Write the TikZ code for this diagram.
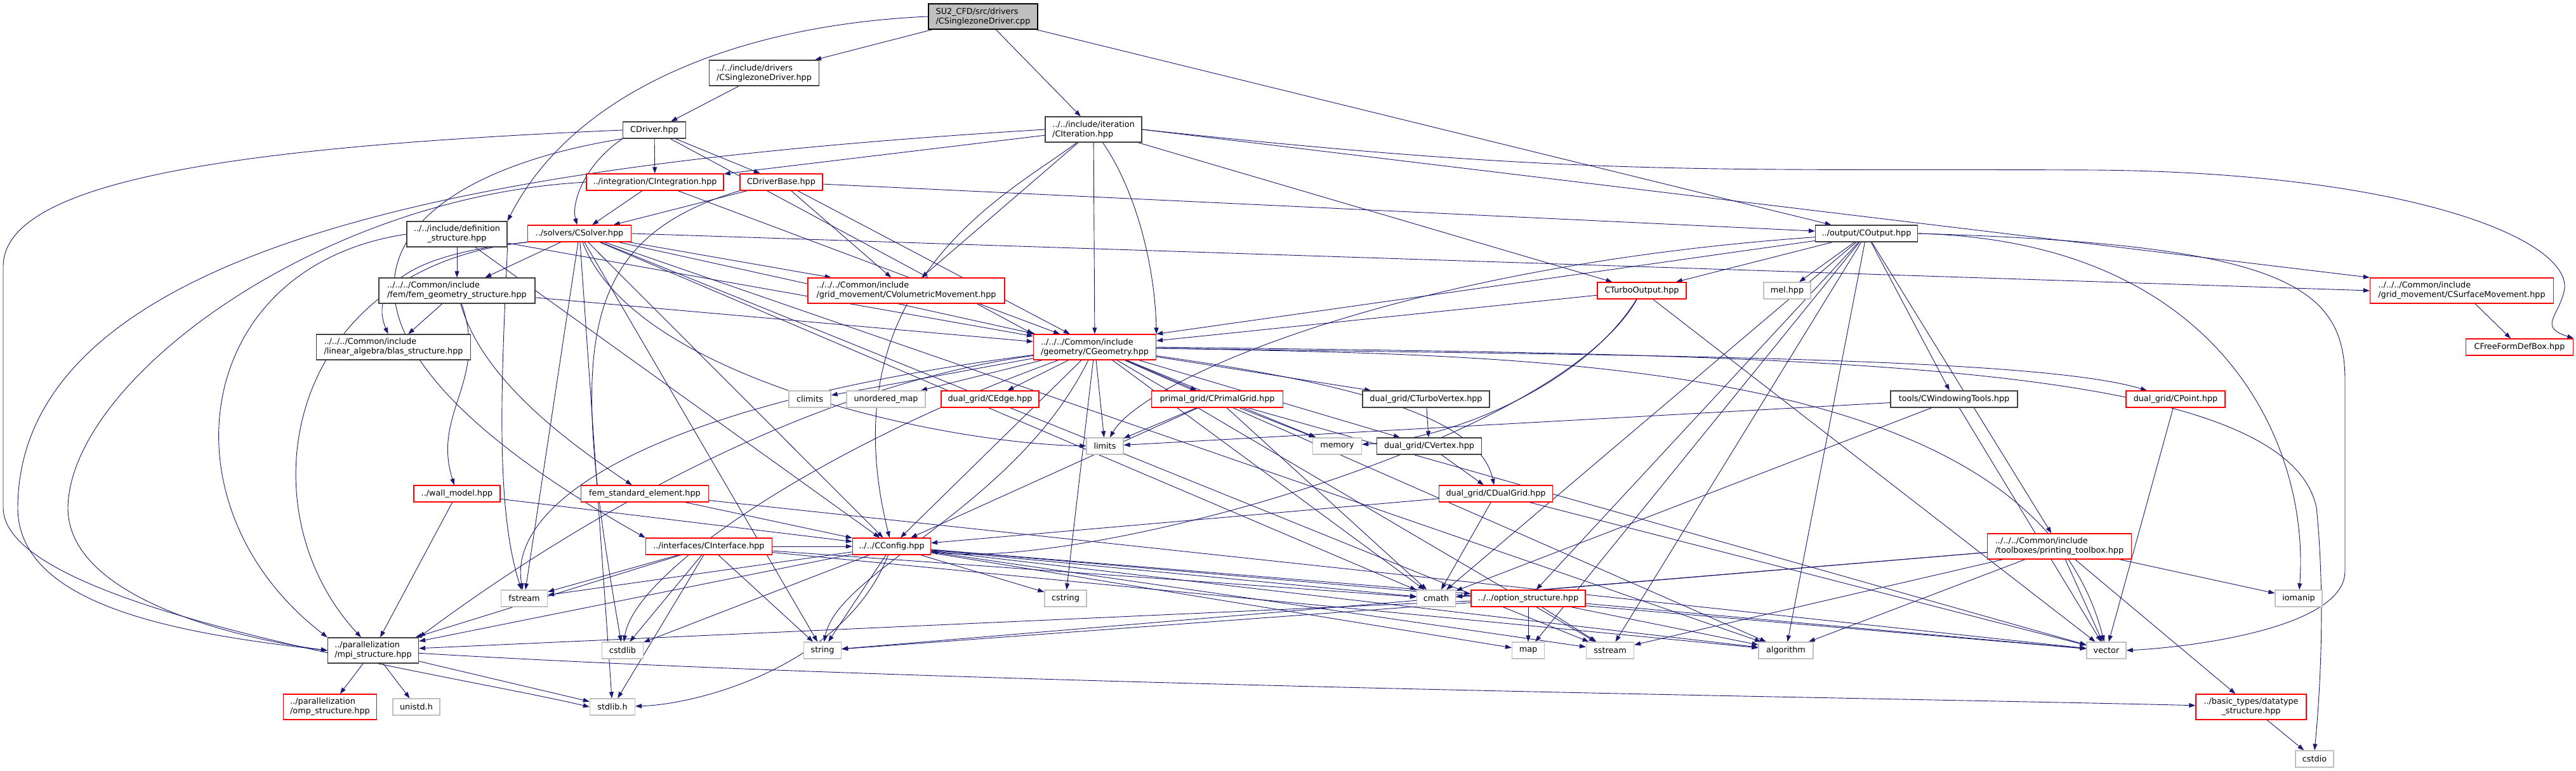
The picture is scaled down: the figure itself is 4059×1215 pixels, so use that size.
\documentclass[tikz,border=0pt]{standalone}
\usepackage{fontspec}
\setmainfont{DejaVu Sans}
\usetikzlibrary{arrows.meta,positioning,backgrounds}
\definecolor{edgeblue}{RGB}{25,25,112}
\definecolor{truncred}{RGB}{255,0,0}
\definecolor{sysgrey}{RGB}{191,191,191}
\definecolor{rootgrey}{RGB}{191,191,191}

\begin{document}
\begin{tikzpicture}[
  x=1pt, y=-1pt,
  font=\fontsize{12.8}{15}\selectfont,
  file/.style={draw=black!75, line width=1.3pt, fill=white, inner xsep=5pt, inner ysep=0pt,
    minimum height=26pt, align=left},
  file2/.style={file, minimum height=40pt},
  cut/.style={file, draw=truncred},
  cut2/.style={cut, minimum height=40pt},
  sys/.style={file, draw=sysgrey},
  rootbox/.style={file2, draw=black, fill=rootgrey},
  ar/.style={-{Triangle[length=10pt,width=7pt]}, draw=edgeblue, line width=0.9pt}
]
\useasboundingbox (0,0) rectangle (4059,1215);

% ---- nodes ------------------------------------------------------------------
\node[rootbox, minimum width=172pt] (root) at (1549,26) {SU2\_CFD/src/drivers\\/CSinglezoneDriver.cpp};
\node[file2, minimum width=173pt] (szd) at (1204,115) {../../include/drivers\\/CSinglezoneDriver.hpp};
\node[file, minimum width=99pt] (drv) at (1031,205) {CDriver.hpp};
\node[cut, minimum width=216pt] (integ) at (1032,287) {../integration/CIntegration.hpp};
\node[cut, minimum width=130pt] (dbase) at (1231,287) {CDriverBase.hpp};
\node[file2, minimum width=152pt] (iter) at (1723,204) {../../include/iteration\\/CIteration.hpp};
\node[file, minimum width=161pt] (out) at (2941,368) {../output/COutput.hpp};
\node[file2, minimum width=158pt, align=center] (defs) at (720,369) {../../include/definition\\\_structure.hpp};
\node[cut, minimum width=163pt] (solver) at (913,368) {../solvers/CSolver.hpp};

\node[file2, minimum width=246pt] (femgeo) at (720,458) {../../../Common/include\\/fem/fem\_geometry\_structure.hpp};
\node[cut2, minimum width=310pt] (volmov) at (1428,458) {../../../Common/include\\/grid\_movement/CVolumetricMovement.hpp};
\node[cut, minimum width=140pt] (turboout) at (2587,458) {CTurboOutput.hpp};
\node[sys, minimum width=74pt] (mel) at (2816,458) {mel.hpp};
\node[cut2, minimum width=289pt] (surfmov) at (3879,458) {../../../Common/include\\/grid\_movement/CSurfaceMovement.hpp};

\node[file2, minimum width=243pt] (blas) at (620,547) {../../../Common/include\\/linear\_algebra/blas\_structure.hpp};
\node[cut2, minimum width=193pt] (geo) at (1725,547) {../../../Common/include\\/geometry/CGeometry.hpp};
\node[cut, minimum width=169pt] (ffd) at (3970,547) {CFreeFormDefBox.hpp};

\node[sys, minimum width=66pt] (climits) at (1276,629) {climits};
\node[sys, minimum width=124pt] (umap) at (1396,629) {unordered\_map};
\node[cut, minimum width=154pt] (edge) at (1560,629) {dual\_grid/CEdge.hpp};
\node[cut, minimum width=207pt] (primal) at (1918,629) {primal\_grid/CPrimalGrid.hpp};
\node[file, minimum width=200pt] (turbovert) at (2247,629) {dual\_grid/CTurboVertex.hpp};
\node[file, minimum width=200pt] (window) at (3079,629) {tools/CWindowingTools.hpp};
\node[cut, minimum width=156pt] (point) at (3428,629) {dual\_grid/CPoint.hpp};

\node[sys, minimum width=58pt] (limits) at (1741,703) {limits};
\node[sys, minimum width=77pt] (memory) at (2107,703) {memory};
\node[file, minimum width=165pt] (vertex) at (2252,703) {dual\_grid/CVertex.hpp};

\node[cut, minimum width=136pt] (wall) at (720,778) {../wall\_model.hpp};
\node[cut, minimum width=201pt] (femstd) at (1016,778) {fem\_standard\_element.hpp};
\node[cut, minimum width=179pt] (dualgrid) at (2357,778) {dual\_grid/CDualGrid.hpp};

\node[cut, minimum width=199pt] (iface) at (1117,861) {../interfaces/CInterface.hpp};
\node[cut, minimum width=123pt] (config) at (1405,861) {../../CConfig.hpp};
\node[cut2, minimum width=227pt] (ptool) at (3245,861) {../../../Common/include\\/toolboxes/printing\_toolbox.hpp};

\node[sys, minimum width=73pt] (fstream) at (826,943) {fstream};
\node[sys, minimum width=66pt] (cstring) at (1679,943) {cstring};
\node[sys, minimum width=61pt] (cmath) at (2263,943) {cmath};
\node[cut, minimum width=180pt] (opt) at (2408,943) {../../option\_structure.hpp};
\node[sys, minimum width=74pt] (iomanip) at (3622,943) {iomanip};

\node[file2, minimum width=143pt] (mpi) at (588,1025) {../parallelization\\/mpi\_structure.hpp};
\node[sys, minimum width=65pt] (cstdlib) at (981,1025) {cstdlib};
\node[sys, minimum width=59pt] (string) at (1296,1025) {string};
\node[sys, minimum width=51pt] (map) at (2408,1025) {map};
\node[sys, minimum width=75pt] (sstream) at (2537,1025) {sstream};
\node[sys, minimum width=86pt] (algorithm) at (2814,1025) {algorithm};
\node[sys, minimum width=62pt] (vector) at (3319,1025) {vector};

\node[cut2, minimum width=147pt] (omp) at (520,1114) {../parallelization\\/omp\_structure.hpp};
\node[sys, minimum width=74pt] (unistd) at (656,1114) {unistd.h};
\node[sys, minimum width=71pt] (stdlib) at (965,1114) {stdlib.h};
\node[cut2, minimum width=174pt, align=center] (dtype) at (3547,1114) {../basic\_types/datatype\\\_structure.hpp};
\node[sys, minimum width=60pt] (cstdio) at (3647,1196) {cstdio};

% ---- edges ------------------------------------------------------------------
\begin{scope}[on background layer]
\draw[ar] (root) -- (szd);
\draw[ar] (root.west) .. controls (1150,40) and (900,150) .. (defs.north east);
\draw[ar] (root) -- (iter);
\draw[ar] (root) -- (out);
\draw[ar] (szd) -- (drv);

\draw[ar] (drv) -- (integ);
\draw[ar] (drv) -- (dbase);
\draw[ar] (drv.south west) .. controls (920,260) and (900,320) .. (solver);
\draw[ar] (drv.west) .. controls (400,230) and (5,280) .. (5,420) -- (5,800)
  .. controls (5,960) and (700,1060) .. (stdlib.west);
\draw[ar] (drv.south west) .. controls (600,280) and (400,500) .. (iface.north west);
\draw[ar] (drv) -- (geo.north west);

\draw[ar] (iter) -- (integ);
\draw[ar] (iter) -- (volmov);
\draw[ar] (iter) .. controls (1790,300) and (1820,420) .. (geo.north east);
\draw[ar] (iter) -- (geo);
\draw[ar] (iter) -- (turboout);
\draw[ar] (iter.east) -- (surfmov.north west);
\draw[ar] (iter.east) .. controls (2500,280) and (2700,265) .. (3300,268)
  .. controls (3800,272) and (4060,380) .. (4040,460) .. controls (4030,500) and (4000,515) .. (ffd.north east);
\draw[ar] (iter.west) .. controls (900,250) and (30,350) .. (28,800)
  .. controls (28,960) and (300,1000) .. (mpi.west);
\draw[ar] (iter) .. controls (1600,300) and (1300,440) .. (config);

\draw[ar] (dbase) -- (solver);
\draw[ar] (dbase) -- (out);
\draw[ar] (dbase) -- (volmov);
\draw[ar] (dbase) -- (geo);
\draw[ar] (dbase.south west) .. controls (900,380) and (900,560) .. (cstdlib);

\draw[ar] (integ) -- (solver);
\draw[ar] (integ) -- (geo);
\draw[ar] (integ.west) .. controls (500,310) and (110,600) .. (107,800)
  .. controls (107,950) and (400,1010) .. (mpi.west);

\draw[ar] (defs) -- (femgeo);
\draw[ar] (defs) -- (geo);
\draw[ar] (defs.west) .. controls (300,420) and (250,800) .. (mpi.north west);
\draw[ar] (defs) -- (config);
\draw[ar] (defs.south east) .. controls (790,600) and (780,800) .. (fstream);

\draw[ar] (solver) -- (femgeo);
\draw[ar] (solver.south west) .. controls (650,400) and (580,450) .. (blas);
\draw[ar] (solver) -- (geo);
\draw[ar] (solver) -- (volmov);
\draw[ar] (solver.east) -- (surfmov.west);
\draw[ar] (solver) -- (config);
\draw[ar] (solver.south west) .. controls (450,420) and (380,800) .. (mpi);
\draw[ar] (solver) .. controls (1000,600) and (1500,700) .. (limits);
\draw[ar] (solver) -- (fstream);
\draw[ar] (solver) -- (string);
\draw[ar] (solver) -- (cmath);
\draw[ar] (solver) -- (sstream);
\draw[ar] (solver) -- (algorithm);
\draw[ar] (solver) -- (stdlib);

\draw[ar] (femgeo) -- (blas);
\draw[ar] (femgeo) .. controls (770,600) and (680,650) .. (wall);
\draw[ar] (femgeo) .. controls (760,600) and (900,700) .. (femstd);
\draw[ar] (femgeo) -- (geo);
\draw[ar] (wall) -- (config);
\draw[ar] (wall) -- (mpi);
\draw[ar] (femstd) -- (config);
\draw[ar] (femstd) -- (vector);

\draw[ar] (geo) -- (climits);
\draw[ar] (geo) -- (umap);
\draw[ar] (geo) -- (edge);
\draw[ar] (geo) -- (primal);
\draw[ar] (geo) -- (limits);
\draw[ar] (geo) -- (turbovert);
\draw[ar] (geo) -- (memory);
\draw[ar] (geo) -- (vertex);
\draw[ar] (geo) .. controls (2100,600) and (2330,650) .. (dualgrid);
\draw[ar] (geo) .. controls (2500,560) and (3200,560) .. (point);
\draw[ar] (geo) -- (config);
\draw[ar] (geo) -- (cstring);
\draw[ar] (geo) -- (cmath);
\draw[ar] (geo) .. controls (1600,800) and (1320,900) .. (string);
\draw[ar] (geo) .. controls (1000,640) and (800,800) .. (fstream);
\draw[ar] (geo) .. controls (1200,620) and (800,900) .. (mpi.north east);
\draw[ar] (geo) .. controls (1300,700) and (1000,900) .. (cstdlib);
\draw[ar] (geo) -- (algorithm);
\draw[ar] (geo) -- (sstream);
\draw[ar] (geo) .. controls (2400,560) and (3200,560) .. (vector);
\draw[ar] (geo.east) .. controls (2800,560) and (3600,560) .. (3650,800)
  .. controls (3665,950) and (3655,1100) .. (cstdio.north);

\draw[ar] (primal) -- (limits);
\draw[ar] (primal) -- (memory);
\draw[ar] (primal) -- (config);
\draw[ar] (primal) -- (cmath);
\draw[ar] (primal) -- (vector);
\draw[ar] (turbovert) -- (vertex);
\draw[ar] (vertex) -- (dualgrid);
\draw[ar] (dualgrid) -- (config);
\draw[ar] (dualgrid) -- (cmath);
\draw[ar] (dualgrid) -- (vector);
\draw[ar] (point) -- (vector);
\draw[ar] (surfmov) -- (ffd);

\draw[ar] (turboout) -- (geo);
\draw[ar] (turboout) .. controls (2500,600) and (2300,690) .. (memory);
\draw[ar] (turboout) .. controls (2450,700) and (1700,900) .. (config);
\draw[ar] (turboout) -- (vector);

\draw[ar] (out) -- (turboout);
\draw[ar] (out) -- (mel);
\draw[ar] (out) -- (window);
\draw[ar] (out) -- (ptool);
\draw[ar] (out) -- (geo.north east);
\draw[ar] (out) .. controls (2200,420) and (1800,600) .. (limits);
\draw[ar] (out.east) .. controls (3500,380) and (3640,700) .. (iomanip);
\draw[ar] (out.east) .. controls (3600,385) and (3695,450) .. (3695,600) -- (3695,900)
  .. controls (3695,990) and (3450,1020) .. (vector.east);
\draw[ar] (out) -- (cmath);
\draw[ar] (out) -- (sstream);
\draw[ar] (out) -- (map);
\draw[ar] (out) -- (algorithm);
\draw[ar] (out) -- (opt);
\draw[ar] (window) -- (limits);
\draw[ar] (window) -- (vector);
\draw[ar] (window) -- (cmath);

\draw[ar] (ptool) -- (iomanip);
\draw[ar] (ptool) -- (vector);
\draw[ar] (ptool) -- (dtype);
\draw[ar] (ptool) -- (string);
\draw[ar] (ptool) -- (sstream);
\draw[ar] (ptool) -- (algorithm);
\draw[ar] (ptool) -- (cmath);

\draw[ar] (iface) -- (string);
\draw[ar] (iface) -- (stdlib);
\draw[ar] (iface) -- (cstdlib);
\draw[ar] (iface) -- (fstream);
\draw[ar] (iface) -- (mpi);
\draw[ar] (iface) -- (config);
\draw[ar] (iface) -- (cmath);
\draw[ar] (iface) -- (algorithm);

\draw[ar] (config) -- (opt);
\draw[ar] (config) -- (cstring);
\draw[ar] (config) -- (string);
\draw[ar] (config) -- (cmath);
\draw[ar] (config) -- (map);
\draw[ar] (config) -- (sstream);
\draw[ar] (config) -- (algorithm);
\draw[ar] (config) -- (vector);
\draw[ar] (config) -- (mpi);
\draw[ar] (config) .. controls (1330,1050) and (1100,1110) .. (stdlib);
\draw[ar] (config) -- (fstream);
\draw[ar] (config) -- (cstdlib);

\draw[ar] (opt) -- (map);
\draw[ar] (opt) -- (sstream);
\draw[ar] (opt) -- (algorithm);
\draw[ar] (opt) -- (vector);
\draw[ar] (opt) -- (string);
\draw[ar] (opt) -- (mpi);

\draw[ar] (mpi) -- (omp);
\draw[ar] (mpi) -- (unistd);
\draw[ar] (mpi) -- (stdlib);
\draw[ar] (mpi) .. controls (1500,1080) and (3000,1100) .. (dtype);
\draw[ar] (dtype) -- (cstdio);
\end{scope}
\end{tikzpicture}
\end{document}
